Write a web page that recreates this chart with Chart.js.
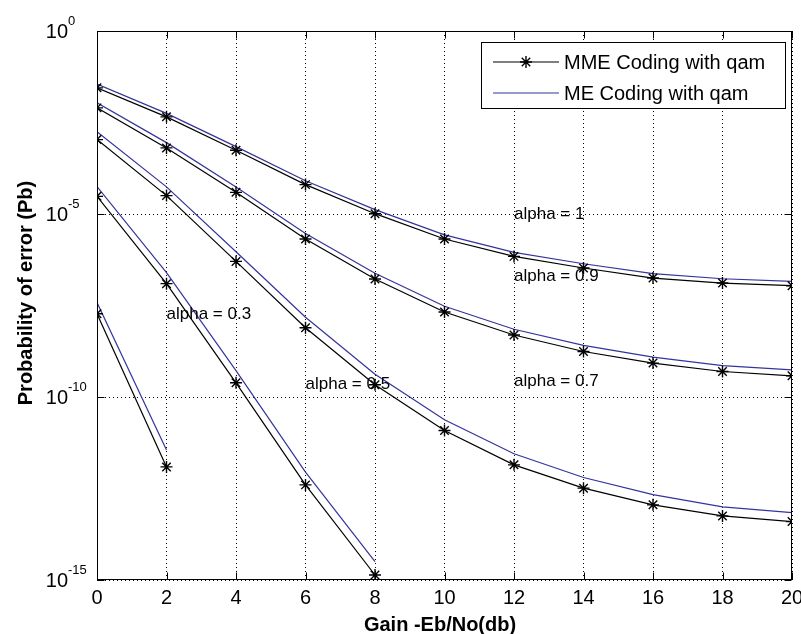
<!DOCTYPE html>
<html>
<head>
<meta charset="utf-8">
<script src="https://cdn.jsdelivr.net/npm/chart.js@4.4.1/dist/chart.umd.min.js"></script>
<style>
  html, body { margin: 0; padding: 0; background: #fff; }
</style>
</head>
<body>
<canvas id="chart" width="801" height="634"></canvas>
<script>
// Gain -Eb/No (db)
const gain = [0, 2, 4, 6, 8, 10, 12, 14, 16, 18, 20];

// probability of error
const mmeAlpha1  = [2.80e-2, 4.51e-3, 5.51e-4, 6.35e-5, 1.02e-5, 2.08e-6, 6.95e-7, 3.35e-7, 1.78e-7, 1.30e-7, 1.10e-7];
const meAlpha1   = [3.55e-2, 5.62e-3, 6.92e-4, 8.13e-5, 1.32e-5, 2.69e-6, 8.91e-7, 4.37e-7, 2.34e-7, 1.70e-7, 1.45e-7];
const mmeAlpha09 = [7.94e-3, 6.40e-4, 3.91e-5, 2.08e-6, 1.67e-7, 2.10e-8, 4.93e-9, 1.75e-9, 8.45e-10, 4.98e-10, 3.80e-10];
const meAlpha09  = [1.10e-2, 8.91e-4, 5.50e-5, 2.95e-6, 2.40e-7, 3.02e-8, 7.08e-9, 2.57e-9, 1.23e-9, 7.24e-10, 5.50e-10];
const mmeAlpha07 = [1.08e-3, 3.18e-5, 5.07e-7, 7.80e-9, 2.16e-10, 1.21e-11, 1.40e-12, 3.23e-13, 1.13e-13, 5.64e-14, 3.94e-14];
const meAlpha07  = [1.78e-3, 5.50e-5, 9.33e-7, 1.51e-8, 4.17e-10, 2.40e-11, 2.82e-12, 6.31e-13, 2.14e-13, 1.00e-13, 6.92e-14];
const mmeAlpha05 = [3.04e-5, 1.25e-7, 2.44e-10, 3.97e-13, 1.37e-15];
const meAlpha05  = [5.62e-5, 2.51e-7, 5.25e-10, 8.91e-13, 3.16e-15];
const mmeAlpha03 = [1.88e-8, 1.23e-12];
const meAlpha03  = [3.80e-8, 3.55e-12];

const xTicks = [0, 2, 4, 6, 8, 10, 12, 14, 16, 18, 20];
const yTicks = [1, 1e-5, 1e-10, 1e-15];
const yTickExps = ["0", "-5", "-10", "-15"];

const legendLabels = ["MME Coding with qam", "ME Coding with qam"];

// curve annotations and where they sit (data coordinates)
const alphaLabels = ["alpha = 1", "alpha = 0.9", "alpha = 0.7", "alpha = 0.5", "alpha = 0.3"];
const alphaLabelX = [12, 12, 12, 6, 2];
const alphaLabelY = [1e-5, 1.97e-7, 2.65e-10, 2.25e-10, 1.77e-8];

const FONT = "'Liberation Sans', Arial, Helvetica, sans-serif";
const BLUE = "#34349c";

function pts(arr) {
  return arr.map((v, i) => ({ x: gain[i], y: v }));
}

function mme(arr) {
  return {
    data: pts(arr), borderColor: "#000", borderWidth: 1.2,
    pointStyle: "star", pointRadius: 6, pointBorderColor: "#000", pointBorderWidth: 1.4,
    pointBackgroundColor: "#000", fill: false, tension: 0
  };
}
function me(arr) {
  return {
    data: pts(arr), borderColor: BLUE, borderWidth: 1.2,
    pointRadius: 0, fill: false, tension: 0
  };
}

// box, inward ticks, tick labels of y, legend and text
const matlabAxes = {
  id: "matlabAxes",
  afterDatasetsDraw(chart) {
    const { ctx, chartArea: a, scales: { x, y } } = chart;
    const L = Math.round(a.left) + 0.5, R = Math.round(a.right) - 0.5;
    const T = Math.round(a.top) + 0.5, B = Math.round(a.bottom) - 0.5;
    ctx.save();
    ctx.strokeStyle = "#000";
    ctx.lineWidth = 1;
    ctx.setLineDash([]);
    ctx.strokeRect(L, T, R - L, B - T);

    ctx.beginPath();
    xTicks.forEach(v => {
      const px = Math.round(x.getPixelForValue(v)) + 0.5;
      ctx.moveTo(px, B); ctx.lineTo(px, B - 7);
      ctx.moveTo(px, T); ctx.lineTo(px, T + 7);
    });
    yTicks.forEach(v => {
      const py = Math.round(y.getPixelForValue(v)) + 0.5;
      ctx.moveTo(L, py); ctx.lineTo(L + 7, py);
      ctx.moveTo(R, py); ctx.lineTo(R - 7, py);
    });
    ctx.stroke();

    // y tick labels 10^n
    ctx.fillStyle = "#000";
    yTicks.forEach((v, i) => {
      const py = y.getPixelForValue(v);
      ctx.font = "20px " + FONT;
      ctx.textAlign = "right";
      ctx.textBaseline = "middle";
      ctx.fillText("10", 68, py + 1);
      ctx.font = "13px " + FONT;
      ctx.textAlign = "left";
      ctx.fillText(yTickExps[i], 68, py - 10);
    });

    // alpha annotations
    ctx.font = "17px " + FONT;
    ctx.textAlign = "left";
    ctx.textBaseline = "middle";
    alphaLabels.forEach((t, i) => {
      ctx.fillText(t, x.getPixelForValue(alphaLabelX[i]), y.getPixelForValue(alphaLabelY[i]));
    });

    // axis titles
    ctx.font = "bold 20px " + FONT;
    ctx.textAlign = "center";
    ctx.fillText("Gain -Eb/No(db)", 440, 625);
    ctx.save();
    ctx.translate(26, 293);
    ctx.rotate(-Math.PI / 2);
    ctx.fillText("Probability of error (Pb)", 0, 0);
    ctx.restore();

    // legend
    const lx = 481.5, ly = 42.5, lw = 304, lh = 66;
    ctx.fillStyle = "#fff";
    ctx.fillRect(lx, ly, lw, lh);
    ctx.strokeRect(lx, ly, lw, lh);
    const rows = [62, 93];
    ctx.lineWidth = 1.2;
    ctx.strokeStyle = "#000";
    ctx.beginPath();
    ctx.moveTo(493, rows[0]); ctx.lineTo(559, rows[0]);
    ctx.stroke();
    ctx.lineWidth = 1.4;
    ctx.beginPath();
    const r = 6, sx = 526, sy = rows[0];
    ctx.moveTo(sx - r, sy); ctx.lineTo(sx + r, sy);
    ctx.moveTo(sx, sy - r); ctx.lineTo(sx, sy + r);
    const d = r * Math.SQRT1_2;
    ctx.moveTo(sx - d, sy - d); ctx.lineTo(sx + d, sy + d);
    ctx.moveTo(sx - d, sy + d); ctx.lineTo(sx + d, sy - d);
    ctx.stroke();
    ctx.lineWidth = 1.2;
    ctx.strokeStyle = BLUE;
    ctx.beginPath();
    ctx.moveTo(493, rows[1]); ctx.lineTo(559, rows[1]);
    ctx.stroke();
    ctx.fillStyle = "#000";
    ctx.font = "20px " + FONT;
    ctx.textAlign = "left";
    ctx.textBaseline = "middle";
    legendLabels.forEach((t, i) => ctx.fillText(t, 564, rows[i] + 1));
    ctx.restore();
  }
};

new Chart(document.getElementById("chart").getContext("2d"), {
  type: "line",
  data: {
    datasets: [
      mme(mmeAlpha1), me(meAlpha1),
      mme(mmeAlpha09), me(meAlpha09),
      mme(mmeAlpha07), me(meAlpha07),
      mme(mmeAlpha05), me(meAlpha05),
      mme(mmeAlpha03), me(meAlpha03)
    ]
  },
  options: {
    responsive: false,
    animation: false,
    events: [],
    layout: { padding: { top: 31, right: 9, left: 0, bottom: 0 } },
    plugins: { legend: { display: false }, tooltip: { enabled: false } },
    scales: {
      x: {
        type: "linear", min: 0, max: 20,
        afterBuildTicks: s => { s.ticks = xTicks.map(v => ({ value: v })); },
        ticks: { color: "#000", font: { family: FONT, size: 20 }, padding: 6, maxRotation: 0, autoSkip: false },
        grid: { color: "#000", lineWidth: 1, drawTicks: false },
        border: { display: false, dash: [1, 3] },
        afterFit: s => { s.height = 54; s.paddingLeft = 0; s.paddingRight = 9; }
      },
      y: {
        type: "logarithmic", min: 1e-15, max: 1,
        afterBuildTicks: s => { s.ticks = yTicks.map(v => ({ value: v })); },
        ticks: { display: false },
        grid: { color: "#000", lineWidth: 1, drawTicks: false },
        border: { display: false, dash: [1, 3] },
        afterFit: s => { s.width = 97; s.paddingTop = 0; s.paddingBottom = 0; }
      }
    }
  },
  plugins: [matlabAxes]
});
</script>
</body>
</html>
